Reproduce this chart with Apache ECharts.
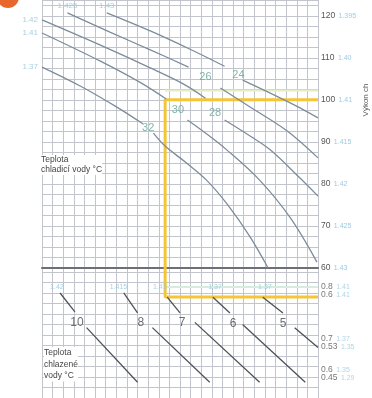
<!DOCTYPE html>
<html><head><meta charset="utf-8">
<script src="https://cdn.jsdelivr.net/npm/echarts/dist/echarts.min.js"></script>
<style>html,body{margin:0;padding:0;background:#fff}#c{width:372px;height:398px}</style>
</head><body><div id="c"></div>
<script>
// ---- top panel: cooling-water temperature curves (x: grid units, y: capacity %) ----
const curve24 = [[6.1,120.7],[10.2,116.4],[13.9,112.1],[17.2,108.0],null,[18.9,104.7],[21.5,101.6],[24.3,98.1],[26.0,95.7]];
const curve26 = [[2.4,120.7],[6.4,116.1],[10.2,111.9],[13.8,107.8],null,[16.8,102.8],[19.6,98.3],[23.1,92.6],[26.0,86.2]];
const curve28 = [[0,119.0],[5.5,113.0],[10.2,107.6],[13.3,103.8],[15.4,100.4],null,[17.2,95.2],[19.6,91.4],[21.5,88.1],[24.3,81.4],[26.0,77.1]];
const curve30 = [[0,115.9],[5.5,109.2],[9.2,104.2],[11.7,100.2],null,[13.7,95.2],[15.4,92.1],[17.4,88.1],[20.5,80.9],[23.4,71.9],[25.9,61.4]];
const curve32 = [[0,107.8],[3.6,103.3],[6.9,98.5],[9.5,94.3],null,[10.5,92.1],[11.6,89.0],[13.5,85.2],[15.5,80.9],[17.5,75.0],[19.6,67.4],[21.3,60.0]];
const topCurves = [curve24, curve26, curve28, curve30, curve32];
const topCurveNames = ['24','26','28','30','32'];
const topCurveLabelPos = [[18.5,105.9],[15.4,105.4],[16.3,96.9],[12.8,97.6],[10.0,93.3]];
const topStartNames = ['1.43','1.425','1.42','1.41','1.37'];
const topStartPos = ['top','top','left','left','left'];

const rightTicks = [60,70,80,90,100,110,120];
const rightCodes = ['1.43','1.425','1.42','1.415','1.41','1.40','1.395'];

// operating point
const opX = 11.6, opLoad = 100, opBottom = 9.62, opFaintTop = 102.2, opFaintBottom = 10.57;

// ---- bottom panel: chilled-water temperature lines (x: grid units, y: grid units) ----
const line10 = [[1.7,10.0],[3.1,8.2],null,[4.2,6.7],[9.0,1.5]];
const line8  = [[7.7,10.0],[9.0,8.1],null,[10.4,6.7],[15.8,1.5]];
const line7  = [[11.8,9.6],[13.0,8.1],null,[14.4,7.2],[20.5,1.5]];
const line6  = [[16.1,9.6],[17.7,8.1],null,[18.9,7.0],[24.8,1.5]];
const line5  = [[20.8,9.6],[22.7,8.1],null,[23.8,6.7],[26.0,4.8]];
const bottomLines = [line10, line8, line7, line6, line5];
const bottomNames = ['10','8','7','6','5'];
const bottomLabelPos = [[3.3,7.2],[9.3,7.2],[13.2,7.2],[18.0,7.1],[22.7,7.1]];
const bottomTopCodes = ['1.42','1.415','1.41','1.37','1.37'];
const bottomTopPos = [[1.4,10.6],[7.2,10.6],[11.1,10.6],[16.3,10.6],[21.0,10.6]];
const bottomRightY = [10.19, 5.24, 2.29];
const bottomRightA = [['0.8','0.6'],['0.7','0.53'],['0.6','0.45']];
const bottomRightB = [['1.41','1.41'],['1.37','1.35'],['1.35','1.29']];

function segments(arr){ const out=[[]]; arr.forEach(p=>{ if(p===null) out.push([]); else out[out.length-1].push(p); }); return out; }

const gridLine = {lineStyle:{color:'#c3c5cd', width:1}};
const series = [];
// yellow operating lines
series.push({type:'line', xAxisIndex:0, yAxisIndex:0, data:[[opX,opFaintTop],[26,opFaintTop]], showSymbol:false, silent:true, lineStyle:{color:'#e6ecc4', width:2}, z:2});
series.push({type:'line', xAxisIndex:1, yAxisIndex:2, data:[[opX,opFaintBottom],[26,opFaintBottom]], showSymbol:false, silent:true, lineStyle:{color:'#d6ecdc', width:2}, z:2});
series.push({type:'line', xAxisIndex:0, yAxisIndex:0, data:[[26,opLoad],[opX,opLoad],[opX,60]], showSymbol:false, silent:true, lineStyle:{color:'#f3c537', width:3}, z:3});
series.push({type:'line', xAxisIndex:1, yAxisIndex:2, data:[[opX,12.38],[opX,opBottom],[26,opBottom]], showSymbol:false, silent:true, lineStyle:{color:'#f3c537', width:3}, z:3});

topCurves.forEach(c=>{
  segments(c).forEach(seg=>{
    series.push({type:'line', xAxisIndex:0, yAxisIndex:0, data:seg, smooth:0.35, showSymbol:false, silent:true, lineStyle:{color:'#7e8c9a', width:1.3}, z:4});
  });
});
series.push({type:'scatter', xAxisIndex:0, yAxisIndex:0, symbolSize:0, silent:true, z:6,
  data: topCurveLabelPos.map((p,i)=>({name:topCurveNames[i], value:p})),
  label:{show:true, position:'inside', formatter:'{b}', color:'#62a597', fontSize:11, fontFamily:'Liberation Sans'}});
series.push({type:'scatter', xAxisIndex:0, yAxisIndex:0, symbolSize:0, silent:true, z:6,
  data: topCurves.map((c,i)=>({name:topStartNames[i], value:c[0], label:{position:topStartPos[i], distance:topStartPos[i]==='top'?3:4}})),
  label:{show:true, formatter:'{b}', color:'#95c6da', fontSize:8, fontFamily:'Liberation Sans'}});

bottomLines.forEach(c=>{
  segments(c).forEach(seg=>{
    series.push({type:'line', xAxisIndex:1, yAxisIndex:2, data:seg, showSymbol:false, silent:true, lineStyle:{color:'#4c515a', width:1.3}, z:4});
  });
});
series.push({type:'scatter', xAxisIndex:1, yAxisIndex:2, symbolSize:0, silent:true, z:6,
  data: bottomLabelPos.map((p,i)=>({name:bottomNames[i], value:p})),
  label:{show:true, position:'inside', formatter:'{b}', color:'#4a4a4a', fontSize:12, fontFamily:'Liberation Sans'}});
series.push({type:'scatter', xAxisIndex:1, yAxisIndex:2, symbolSize:0, silent:true, z:6,
  data: bottomTopPos.map((p,i)=>({name:bottomTopCodes[i], value:p})),
  label:{show:true, position:'inside', formatter:'{b}', color:'#95c6da', fontSize:7, fontFamily:'Liberation Sans'}});
series.push({type:'scatter', xAxisIndex:1, yAxisIndex:2, symbolSize:0, silent:true, z:6, clip:false,
  data: bottomRightY.map((y,i)=>({name:String(i), value:[26,y]})),
  label:{show:true, position:'right', distance:3, lineHeight:8,
    formatter:p=>{const i=+p.name; return '{a|'+bottomRightA[i][0]+'} {b|'+bottomRightB[i][0]+'}\n{a|'+bottomRightA[i][1]+'} {b|'+bottomRightB[i][1]+'}';},
    rich:{a:{color:'#555', fontSize:8.5, fontFamily:'Liberation Sans', lineHeight:8}, b:{color:'#9ccbe0', fontSize:7, fontFamily:'Liberation Sans', lineHeight:8}}}});

const chart = echarts.init(document.getElementById('c'), null, {renderer:'canvas'});
chart.setOption({
  animation:false,
  backgroundColor:'#fff',
  grid:[{left:42, right:54, top:0, height:268},{left:42, right:54, top:268, height:130}],
  xAxis:[
    {gridIndex:0, type:'value', min:0, max:26, interval:1, axisLabel:{show:false}, axisTick:{show:false},
     axisLine:{show:true, onZero:false, lineStyle:{color:'#6e6f76', width:2}}, splitLine:gridLine},
    {gridIndex:1, type:'value', min:0, max:26, interval:1, axisLabel:{show:false}, axisTick:{show:false},
     axisLine:{show:false}, splitLine:gridLine}
  ],
  yAxis:[
    {gridIndex:0, type:'value', min:60, max:123.75, interval:2.5, axisLabel:{show:false}, axisTick:{show:false}, axisLine:{show:false}, splitLine:gridLine},
    {gridIndex:0, type:'value', position:'right', min:60, max:123.75, interval:10, splitLine:{show:false}, axisTick:{show:false}, axisLine:{show:false},
     axisLabel:{margin:3, formatter:v=>{const i=rightTicks.indexOf(v); return i<0?'':'{a|'+v+'} {b|'+rightCodes[i]+'}';},
       rich:{a:{color:'#555', fontSize:8.5, fontFamily:'Liberation Sans'}, b:{color:'#9ccbe0', fontSize:7, fontFamily:'Liberation Sans'}}}},
    {gridIndex:1, type:'value', min:0, max:12.38, interval:1, axisLabel:{show:false}, axisTick:{show:false}, axisLine:{show:false}, splitLine:gridLine}
  ],
  graphic:[
    {type:'circle', shape:{cx:8, cy:-3, r:11}, style:{fill:'#e8672c'}},
    {type:'text', left:41, top:155, z:10, style:{text:'Teplota\nchladicí vody °C', fill:'#444', font:'8.5px "Liberation Sans"', lineHeight:10, backgroundColor:'#fff'}},
    {type:'text', left:44, top:347, z:10, style:{text:'Teplota\nchlazené\nvody °C', fill:'#444', font:'8.5px "Liberation Sans"', lineHeight:11.5, backgroundColor:'#fff'}},
    {type:'text', x:366, y:100, rotation:Math.PI/2, style:{text:'Výkon ch', fill:'#555', font:'8px "Liberation Sans"', align:'center', verticalAlign:'middle'}}
  ],
  series: series
});
</script></body></html>
